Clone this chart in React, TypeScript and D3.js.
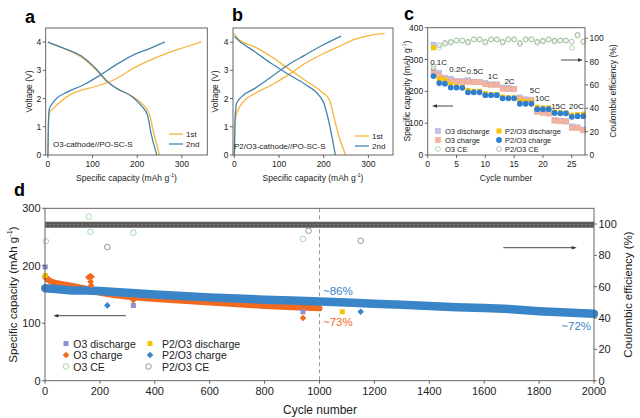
import React from 'react';
import * as d3 from 'd3';

const FONT = "'Liberation Sans', Arial, Helvetica, sans-serif";
const AXIS = '#555';
const TXT = '#222';

// ---------- Panel a : O3-cathode//PO-SC-S  [capacity (mAh/g), voltage (V)]
const aCharge1st = [[0, 0], [1, 0.9], [3, 1.5], [12, 1.65], [42, 2.06], [117, 2.48], [154, 2.71], [191, 3.07], [229, 3.36], [266, 3.6], [303, 3.8], [344, 4.01]];
const aCharge2nd = [[0, 0], [1, 1.1], [3, 1.62], [8, 1.78], [19, 2.0], [42, 2.22], [79, 2.48], [117, 2.83], [154, 3.21], [191, 3.54], [229, 3.78], [262, 4.01]];
const aDis1st = [[0, 4.0], [27, 3.83], [79, 3.42], [109, 3.0], [132, 2.6], [154, 2.36], [191, 2.06], [214, 1.77], [228, 1.42], [237, 0.77], [250, 0]];
const aDis2nd = [[0, 4.0], [27, 3.83], [79, 3.46], [109, 3.03], [132, 2.62], [154, 2.36], [191, 2.04], [210, 1.73], [223, 1.42], [231, 0.77], [244, 0]];

// ---------- Panel b : P2/O3-cathode//PO-SC-S
const bCharge1st = [[0, 0], [1, 0.8], [2, 1.2], [5, 1.47], [24, 1.95], [46, 2.18], [83, 2.48], [120, 2.83], [158, 3.24], [195, 3.56], [232, 3.83], [269, 4.1], [306, 4.25], [336, 4.31]];
const bCharge2nd = [[0, 0], [1, 1.0], [3, 1.6], [5, 1.83], [16, 2.06], [46, 2.36], [83, 2.77], [120, 3.19], [158, 3.54], [195, 3.87], [239, 4.21]];
const bDis1st = [[0, 4.3], [9, 4.1], [46, 3.83], [83, 3.48], [120, 3.07], [158, 2.65], [195, 2.24], [213, 1.95], [221, 1.47], [232, 0.77], [249, 0]];
const bDis2nd = [[0, 4.2], [9, 4.07], [46, 3.66], [83, 3.24], [120, 2.87], [158, 2.51], [190, 2.1], [200, 1.85], [207, 1.47], [217, 0.77], [226, 0]];

// ---------- Panel c : rate capability
const cCycles = [1, 2, 3, 4, 5, 6, 7, 8, 9, 10, 11, 12, 13, 14, 15, 16, 17, 18, 19, 20, 21, 22, 23, 24, 25, 26, 27];
const cO3Dis = [347, 258, 243, 240, 233, 232, 235, 230, 229, 226, 222, 222, 212, 210, 208, 181, 175, 174, 140, 135, 132, 110, 108, 106, 90, 87, 80];
const cO3Chg = [262, 250, 238, 232, 230, 230, 229, 229, 229, 222, 220, 220, 208, 207, 207, 176, 172, 172, 135, 132, 130, 108, 106, 105, 85, 85, 77];
const cP2Dis = [337, 240, 235, 222, 215, 213, 203, 200, 200, 193, 190, 190, 182, 180, 180, 170, 167, 166, 150, 148, 148, 135, 133, 132, 125, 127, 128];
const cP2Chg = [248, 226, 224, 212, 212, 211, 197, 197, 197, 188, 188, 188, 178, 178, 178, 161, 161, 161, 144, 144, 144, 132, 131, 131, 120, 122, 122];
const cO3CE = [76, 92, 95, 96, 98, 98, 96, 99, 99, 96, 99, 99, 96, 99, 99, 95, 99, 99, 96, 97, 99, 97, 98, 98, 92, 102, 97];
const cP2CE = [74, 94, 96, 97, 98, 98, 97, 99, 99, 97, 99, 99, 97, 99, 99, 96, 99, 99, 97, 98, 99, 98, 98, 98, 97, 103, 97];
const cRateLabels = ['0.1C', '0.2C', '0.5C', '1C', '2C', '5C', '10C', '15C', '20C'];
const cRateX = [1.9, 5.2, 8.2, 11.3, 14.2, 18.6, 19.9, 22.7, 25.8];
const cRateY = [292, 270, 261, 248, 232, 204, 176, 151, 151];

// ---------- Panel d : long cycling
const dO3Cyc = [1, 10, 25, 50, 100, 150, 200, 250, 300, 400, 500, 600, 700, 800, 900, 1000];
const dO3Chg = [181, 176, 172, 169, 165, 160, 153, 149, 146, 142, 139, 136, 133, 130, 128, 126];
const dP2Cyc = [1, 50, 100, 150, 200, 300, 400, 500, 600, 700, 800, 900, 1000, 1100, 1200, 1300, 1400, 1500, 1600, 1700, 1800, 1900, 2000];
const dP2Chg = [161, 159, 157, 157, 156, 153, 150, 147.5, 145, 143, 141, 139.5, 138, 136, 134, 132, 130, 128, 126.5, 124.5, 121, 118.5, 116.5];
const dCECyc = [1, 2000];
const dP2CE = [99.5, 99.5];
const dO3DisOut = [[1, 198], [322, 131], [940, 120]];
const dO3ChgOut = [[158, 180], [165, 182], [170, 181], [166, 172], [168, 166], [322, 140], [940, 109]];
const dP2DisOut = [[1, 183], [1083, 120]];
const dP2ChgOut = [[227, 131], [1150, 120]];
const dO3CEOut = [[3, 89], [160, 104.7], [166, 95], [322, 94.5], [940, 90.5]];
const dP2CEOut = [[227, 85.3], [960, 95.7], [1150, 89.3]];

const C1ST = '#f7b53c';
const C2ND = '#4585ad';
const cLav = '#c9c9f0';
const cSal = '#f5b9a4';
const cYel = '#f7c400';
const cBlu = '#2e7fd2';
const dOra = '#f26a1f';
const dBlu = '#3a85c8';
const dLav = '#8f8fd0';

type Sc = d3.ScaleLinear<number, number>;

function Txt(p: any) {
  const { children, ...rest } = p;
  return <text fontFamily={FONT} fill={TXT} {...rest}>{children}</text>;
}

function CapTitle({ x, y, size, rotate }: { x: number; y: number; size: number; rotate?: boolean }) {
  return (
    <text transform={`translate(${x},${y})${rotate ? ' rotate(-90)' : ''}`} textAnchor="middle" dominantBaseline="central" fontSize={size} fontFamily={FONT} fill={TXT}>
      Specific capacity (mAh g<tspan dy={-size * 0.35} fontSize={size * 0.65}>-1</tspan><tspan dy={size * 0.35}>)</tspan>
    </text>
  );
}

function Frame({ x: xs, y: ys }: { x: Sc; y: Sc }) {
  const [x0, x1] = xs.range();
  const [y0, y1] = ys.range();
  return <rect x={x0} y={y1} width={x1 - x0} height={y0 - y1} fill="none" stroke={AXIS} strokeWidth={0.9} />;
}

function XAxis({ s, ticks, y, fs, gap }: { s: Sc; ticks: number[]; y: number; fs: number; gap: number }) {
  return (
    <g>
      {ticks.map((t) => (
        <g key={t}>
          <line x1={s(t)} x2={s(t)} y1={y} y2={y + 3} stroke={AXIS} strokeWidth={0.9} />
          <Txt x={s(t)} y={y + gap} fontSize={fs} textAnchor="middle" dominantBaseline="central">{t}</Txt>
        </g>
      ))}
    </g>
  );
}

function YAxis({ s, ticks, x, fs, side }: { s: Sc; ticks: number[]; x: number; fs: number; side: 'l' | 'r' }) {
  const d = side === 'l' ? -1 : 1;
  return (
    <g>
      {ticks.map((t) => (
        <g key={t}>
          <line x1={x} x2={x + d * 3} y1={s(t)} y2={s(t)} stroke={AXIS} strokeWidth={0.9} />
          <Txt x={x + d * 4.5} y={s(t)} fontSize={fs} textAnchor={side === 'l' ? 'end' : 'start'} dominantBaseline="central">{t}</Txt>
        </g>
      ))}
    </g>
  );
}

function Arrow({ x1, x2, y, col = '#333' }: { x1: number; x2: number; y: number; col?: string }) {
  const d = x2 > x1 ? 1 : -1;
  return (
    <g>
      <line x1={x1} x2={x2 - d * 3} y1={y} y2={y} stroke={col} strokeWidth={0.9} />
      <polygon points={`${x2},${y} ${x2 - d * 5},${y - 1.8} ${x2 - d * 5},${y + 1.8}`} fill={col} />
    </g>
  );
}

function GCDPanel({ xs, ys, ch1, ch2, di1, di2, label, labelX, legX, legY }: any) {
  const line = (data: number[][]) =>
    d3.line<number[]>().x((d) => xs(d[0])).y((d) => ys(d[1])).curve(d3.curveMonotoneX)(data) as string;
  const [y0] = ys.range();
  const [x0] = xs.range();
  return (
    <g>
      <path d={line(ch1)} fill="none" stroke={C1ST} strokeWidth={1.3} />
      <path d={line(di1)} fill="none" stroke={C1ST} strokeWidth={1.3} />
      <path d={line(ch2)} fill="none" stroke={C2ND} strokeWidth={1.3} />
      <path d={line(di2)} fill="none" stroke={C2ND} strokeWidth={1.3} />
      <Frame x={xs} y={ys} />
      <XAxis s={xs} ticks={[0, 100, 200, 300]} y={y0} fs={8.5} gap={9} />
      <YAxis s={ys} ticks={[0, 1, 2, 3, 4]} x={x0} fs={8.5} side="l" />
      <Txt x={labelX} y={legY + 10} fontSize={8} dominantBaseline="central">{label}</Txt>
      <line x1={legX} x2={legX + 14} y1={legY} y2={legY} stroke={C1ST} strokeWidth={1.3} />
      <Txt x={legX + 17} y={legY} fontSize={8} dominantBaseline="central">1st</Txt>
      <line x1={legX} x2={legX + 14} y1={legY + 10} y2={legY + 10} stroke={C2ND} strokeWidth={1.3} />
      <Txt x={legX + 17} y={legY + 10} fontSize={8} dominantBaseline="central">2nd</Txt>
    </g>
  );
}

function XSquare({ x, y, fill, stroke, s = 5 }: any) {
  const h = s / 2;
  return (
    <g>
      <rect x={x - h} y={y - h} width={s} height={s} fill={fill} stroke={stroke} strokeWidth={0.5} />
      <path d={`M${x - h},${y - h}L${x + h},${y + h}M${x + h},${y - h}L${x - h},${y + h}`} stroke={stroke} strokeWidth={0.5} />
    </g>
  );
}

function Diamond({ x, y, fill, s = 3.3 }: any) {
  return <polygon points={`${x},${y - s} ${x + s},${y} ${x},${y + s} ${x - s},${y}`} fill={fill} />;
}

export default function App() {
  // panel a, b
  const axs = d3.scaleLinear().domain([-5, 357]).range([45.7, 207.3]);
  const bxs = d3.scaleLinear().domain([-3, 355]).range([233, 393]);
  const vys = d3.scaleLinear().domain([0, 4.5]).range([155, 28]);

  // panel c
  const cx = d3.scaleLinear().domain([0, 27.3]).range([427.7, 585]);
  const cy = d3.scaleLinear().domain([0, 400]).range([155, 27.7]);
  const cy2 = d3.scaleLinear().domain([0, 109]).range([155, 27.7]);

  // panel d
  const dx = d3.scaleLinear().domain([0, 2000]).range([45, 594]);
  const dy = d3.scaleLinear().domain([0, 300]).range([380.7, 208.3]);
  const dy2 = d3.scaleLinear().domain([0, 110]).range([380.7, 208.3]);

  const bandO3 = d3.line<number>().x((_, i) => dx(dO3Cyc[i])).y((v) => dy(v))(dO3Chg) as string;
  const bandP2 = d3.line<number>().x((_, i) => dx(dP2Cyc[i])).y((v) => dy(v))(dP2Chg) as string;
  const bandCE = d3.line<number>().x((_, i) => dx(dCECyc[i])).y((v) => dy2(v))(dP2CE) as string;

  return (
    <svg width={640} height={418} style={{ position: 'absolute', left: 0, top: 0, background: '#fff' }}>
      <rect width={640} height={418} fill="#fff" />
      {/* panel letters */}
      <Txt x={25} y={17} fontSize={18} fontWeight="bold" fill="#000" dominantBaseline="central">a</Txt>
      <Txt x={232} y={15} fontSize={18} fontWeight="bold" fill="#000" dominantBaseline="central">b</Txt>
      <Txt x={404} y={14} fontSize={18} fontWeight="bold" fill="#000" dominantBaseline="central">c</Txt>
      <Txt x={14} y={190} fontSize={18} fontWeight="bold" fill="#000" dominantBaseline="central">d</Txt>

      {/* ---- a ---- */}
      <GCDPanel xs={axs} ys={vys} ch1={aCharge1st} ch2={aCharge2nd} di1={aDis1st} di2={aDis2nd} label="O3-cathode//PO-SC-S" labelX={53} legX={169} legY={134} />
      <Txt x={29} y={91.5} fontSize={8.5} textAnchor="middle" dominantBaseline="central" transform="rotate(-90,29,91.5)">Voltage (V)</Txt>
      <CapTitle x={126.5} y={177.5} size={8.5} />

      {/* ---- b ---- */}
      <GCDPanel xs={bxs} ys={vys} ch1={bCharge1st} ch2={bCharge2nd} di1={bDis1st} di2={bDis2nd} label="P2/O3-cathode//PO-SC-S" labelX={234} legX={355} legY={136} />
      <Txt x={215} y={91.5} fontSize={8.5} textAnchor="middle" dominantBaseline="central" transform="rotate(-90,215,91.5)">Voltage (V)</Txt>
      <CapTitle x={313} y={177.5} size={8.5} />

      {/* ---- c ---- */}
      <g>
        {cCycles.map((c, i) => <XSquare key={'od' + c} x={cx(c)} y={cy(cO3Dis[i])} fill={cLav} stroke="#a9a9dc" />)}
        {cCycles.map((c, i) => <XSquare key={'oc' + c} x={cx(c)} y={cy(cO3Chg[i])} fill={cSal} stroke="#eea48c" />)}
        {cCycles.map((c, i) => <rect key={'pd' + c} x={cx(c) - 2.5} y={cy(cP2Dis[i]) - 2.5} width={5} height={5} fill={cYel} />)}
        {cCycles.map((c, i) => <circle key={'pc' + c} cx={cx(c)} cy={cy(cP2Chg[i])} r={2.9} fill={cBlu} />)}
        {cCycles.map((c, i) => <circle key={'pce' + c} cx={cx(c)} cy={cy2(cP2CE[i])} r={2.4} fill="none" stroke="#999" strokeWidth={0.7} />)}
        {cCycles.map((c, i) => <circle key={'oce' + c} cx={cx(c)} cy={cy2(cO3CE[i])} r={2.4} fill="none" stroke="#92cf92" strokeWidth={0.7} />)}
        {cRateLabels.map((l, i) => (
          <Txt key={l} x={cx(cRateX[i])} y={cy(cRateY[i])} fontSize={8} textAnchor="middle" dominantBaseline="central">{l}</Txt>
        ))}
        <Frame x={cx} y={cy} />
        <XAxis s={cx} ticks={[0, 5, 10, 15, 20, 25]} y={155} fs={8.5} gap={9} />
        <YAxis s={cy} ticks={[0, 100, 200, 300, 400]} x={427.7} fs={8.5} side="l" />
        <YAxis s={cy2} ticks={[0, 20, 40, 60, 80, 100]} x={585} fs={8.5} side="r" />
        <Arrow x1={453} x2={432} y={106} />
        <Arrow x1={561} x2={583} y={60} />
        {/* legend */}
        <XSquare x={438} y={131} fill={cLav} stroke="#a9a9dc" />
        <Txt x={445} y={131} fontSize={7.5} dominantBaseline="central">O3 discharge</Txt>
        <XSquare x={438} y={140} fill={cSal} stroke="#eea48c" />
        <Txt x={445} y={140} fontSize={7.5} dominantBaseline="central">O3 charge</Txt>
        <circle cx={438} cy={149} r={2.4} fill="none" stroke="#92cf92" strokeWidth={0.7} />
        <Txt x={445} y={149} fontSize={7.5} dominantBaseline="central">O3 CE</Txt>
        <rect x={496.5} y={128.5} width={5} height={5} fill={cYel} />
        <Txt x={505} y={131} fontSize={7.5} dominantBaseline="central">P2/O3 discharge</Txt>
        <circle cx={499} cy={140} r={2.9} fill={cBlu} />
        <Txt x={505} y={140} fontSize={7.5} dominantBaseline="central">P2/O3 charge</Txt>
        <circle cx={499} cy={149} r={2.4} fill="none" stroke="#999" strokeWidth={0.7} />
        <Txt x={505} y={149} fontSize={7.5} dominantBaseline="central">P2/O3 CE</Txt>
        <CapTitle x={407} y={91} size={8.5} rotate />
        <Txt x={613} y={91} fontSize={8.5} textAnchor="middle" dominantBaseline="central" transform="rotate(-90,613,91)">Coulombic efficiency (%)</Txt>
        <Txt x={506} y={177.5} fontSize={8.5} textAnchor="middle" dominantBaseline="central">Cycle number</Txt>
      </g>

      {/* ---- d ---- */}
      <g>
        <line x1={dx(1000)} x2={dx(1000)} y1={208.3} y2={380.7} stroke="#999" strokeWidth={1} strokeDasharray="4 3" />
        <path d={bandCE} stroke="#5a5a5a" strokeWidth={6} fill="none" />
        <path d={bandCE} stroke="#8a8a8a" strokeWidth={1.2} strokeDasharray="1.5 2.5" fill="none" />
        <path d={bandO3} stroke={dOra} strokeWidth={6} fill="none" strokeLinecap="round" />
        <path d={bandP2} stroke={dBlu} strokeWidth={8.5} fill="none" strokeLinecap="round" />
        {dO3ChgOut.map((p, i) => <Diamond key={'o' + i} x={dx(p[0])} y={dy(p[1])} fill={dOra} />)}
        {dO3DisOut.map((p, i) => <rect key={'l' + i} x={dx(p[0]) - 2.5} y={dy(p[1]) - 2.5} width={5} height={5} fill={dLav} />)}
        {dP2DisOut.map((p, i) => <rect key={'y' + i} x={dx(p[0]) - 2.5} y={dy(p[1]) - 2.5} width={5} height={5} fill={cYel} />)}
        {dP2ChgOut.map((p, i) => <Diamond key={'b' + i} x={dx(p[0])} y={dy(p[1])} fill={dBlu} />)}
        {dO3CEOut.map((p, i) => <circle key={'g' + i} cx={dx(p[0])} cy={dy2(p[1])} r={2.8} fill="none" stroke="#8fd08f" strokeWidth={0.8} />)}
        {dP2CEOut.map((p, i) => <circle key={'k' + i} cx={dx(p[0])} cy={dy2(p[1])} r={2.8} fill="none" stroke="#777" strokeWidth={0.8} />)}
        <Frame x={dx} y={dy} />
        <XAxis s={dx} ticks={[0, 200, 400, 600, 800, 1000, 1200, 1400, 1600, 1800, 2000]} y={380.7} fs={11} gap={10.5} />
        <YAxis s={dy} ticks={[0, 100, 200, 300]} x={45} fs={11} side="l" />
        <YAxis s={dy2} ticks={[0, 20, 40, 60, 80, 100]} x={594} fs={11} side="r" />
        <Arrow x1={125.7} x2={53.3} y={315.7} />
        <Arrow x1={503.3} x2={576.7} y={247.7} />
        <Txt x={323} y={290.7} fontSize={11.5} fill={dBlu} dominantBaseline="central">~86%</Txt>
        <Txt x={323} y={322.3} fontSize={11.5} fill={dOra} dominantBaseline="central">~73%</Txt>
        <Txt x={591} y={325.7} fontSize={11.5} fill={dBlu} textAnchor="end" dominantBaseline="central">~72%</Txt>
        {/* legend */}
        <rect x={63.5} y={341} width={5} height={5} fill={dLav} />
        <Txt x={73.3} y={343.5} fontSize={10.5} dominantBaseline="central">O3 discharge</Txt>
        <Diamond x={66} y={355} fill={dOra} />
        <Txt x={73.3} y={355} fontSize={10.5} dominantBaseline="central">O3 charge</Txt>
        <circle cx={66} cy={366.5} r={2.8} fill="none" stroke="#8fd08f" strokeWidth={0.8} />
        <Txt x={73.3} y={366.5} fontSize={10.5} dominantBaseline="central">O3 CE</Txt>
        <rect x={147.5} y={341} width={5} height={5} fill={cYel} />
        <Txt x={162} y={343.5} fontSize={10.5} dominantBaseline="central">P2/O3 discharge</Txt>
        <Diamond x={150} y={355} fill={dBlu} />
        <Txt x={162} y={355} fontSize={10.5} dominantBaseline="central">P2/O3 charge</Txt>
        <circle cx={148.5} cy={366.5} r={2.8} fill="none" stroke="#777" strokeWidth={0.8} />
        <Txt x={162} y={366.5} fontSize={10.5} dominantBaseline="central">P2/O3 CE</Txt>
        <CapTitle x={13} y={294.5} size={11.5} rotate />
        <Txt x={628} y={294.5} fontSize={11.5} textAnchor="middle" dominantBaseline="central" transform="rotate(-90,628,294.5)">Coulombic efficiency (%)</Txt>
        <Txt x={320} y={410} fontSize={12} textAnchor="middle" dominantBaseline="central">Cycle number</Txt>
      </g>
    </svg>
  );
}
